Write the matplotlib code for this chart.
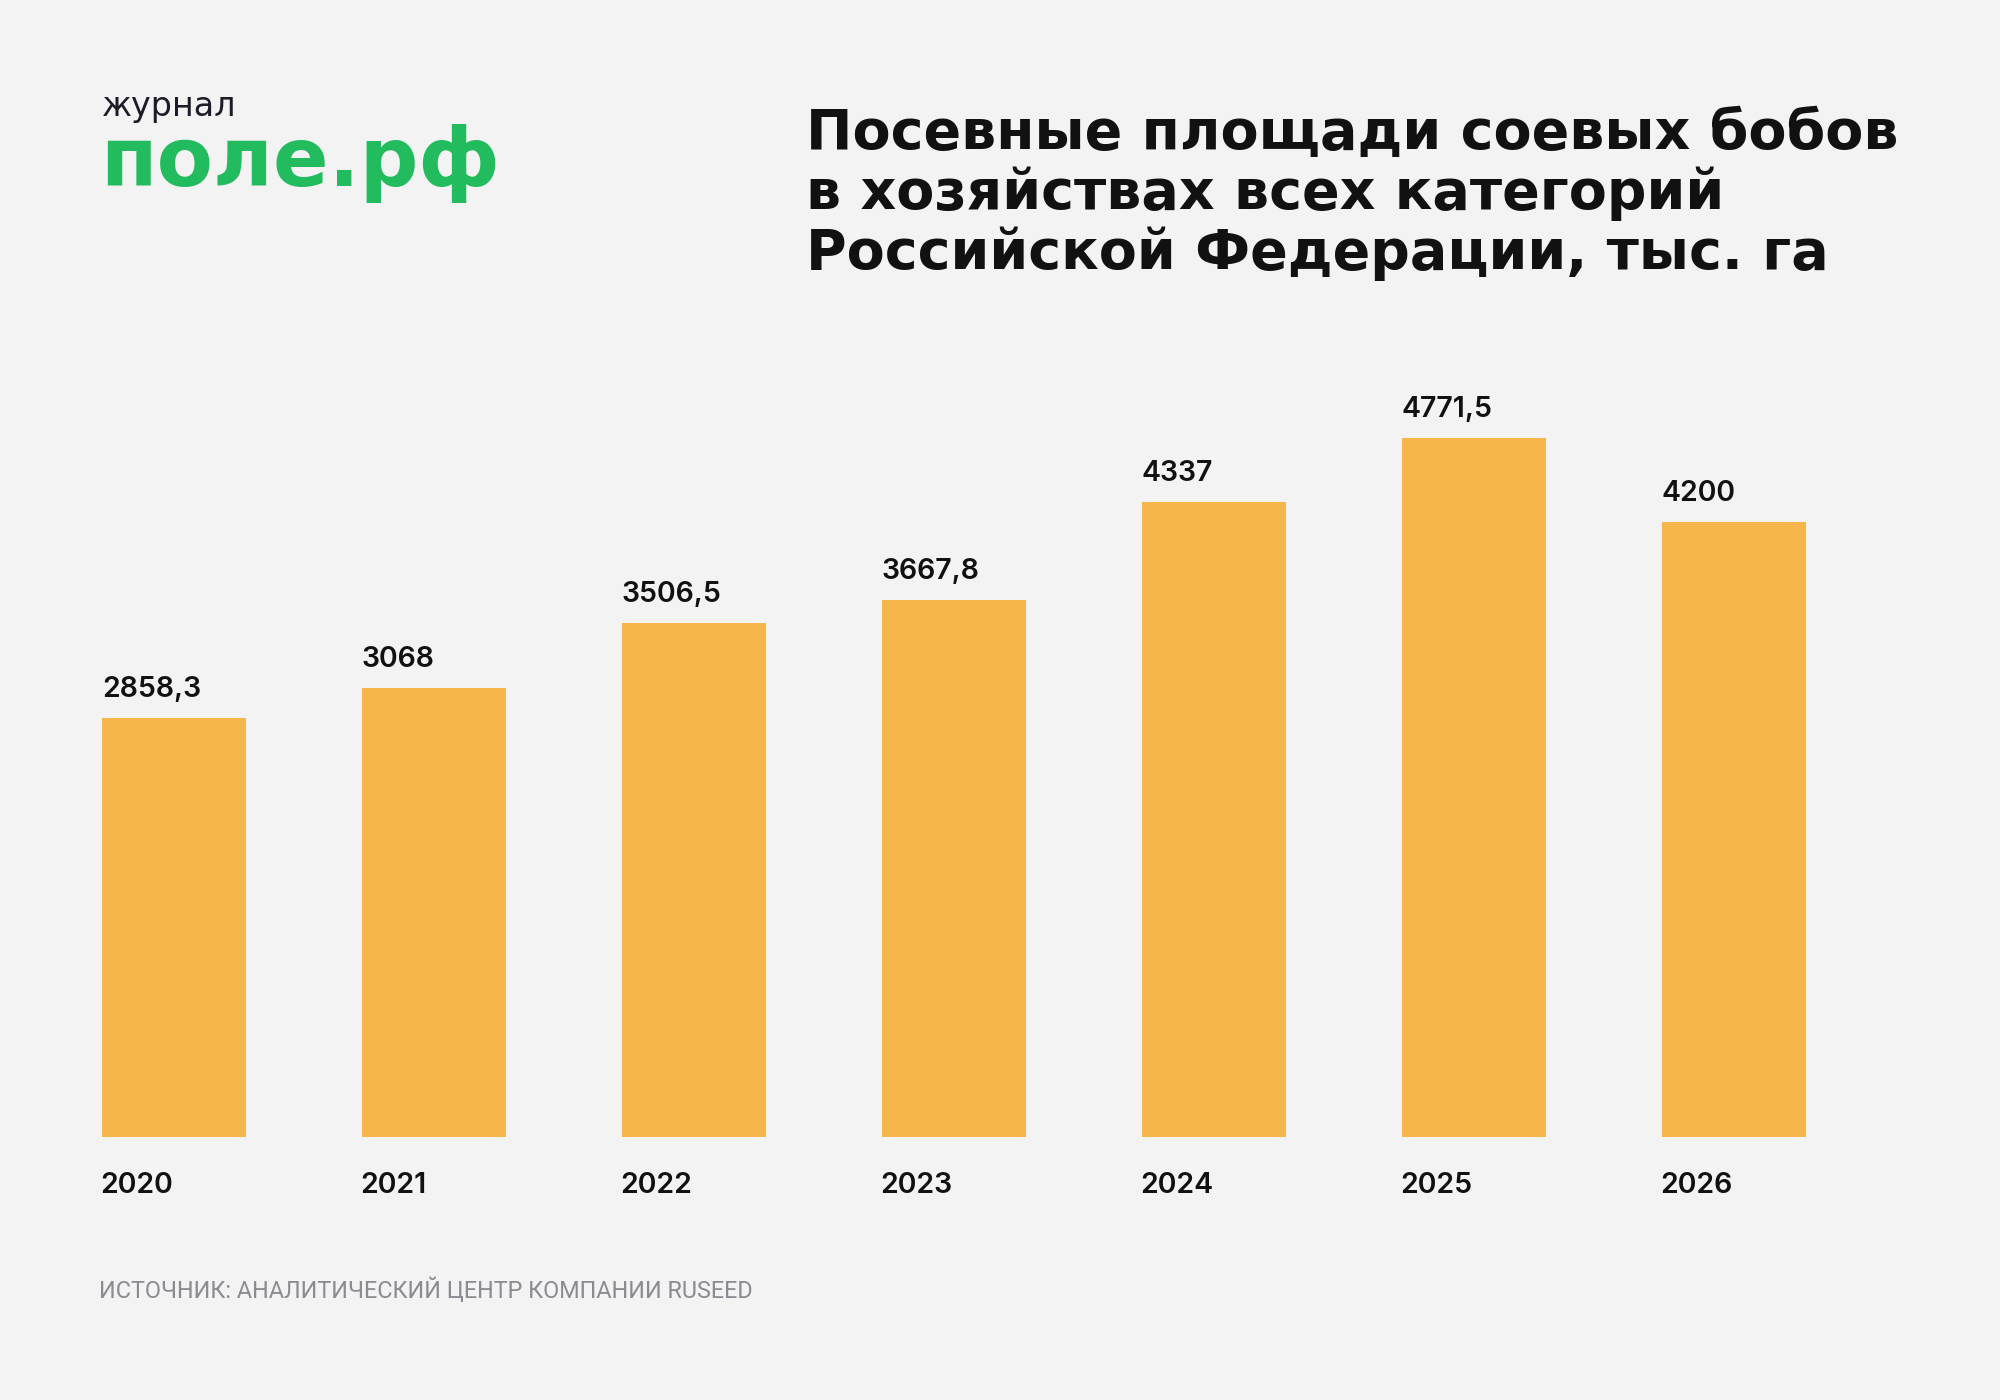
import matplotlib.pyplot as plt

years = ['2020', '2021', '2022', '2023', '2024', '2025', '2026']
values = [2858.3, 3068, 3506.5, 3667.8, 4337, 4771.5, 4200]

title_lines = [
    'Посевные площади соевых бобов',
    'в хозяйствах всех категорий',
    'Российской Федерации, тыс. га',
]
source = 'ИСТОЧНИК: АНАЛИТИЧЕСКИЙ ЦЕНТР КОМПАНИИ RUSEED'

c_bg = '#F3F3F3'
c_bar = '#F6B64C'
c_green = '#22BB5E'
c_text = '#111111'

plt.rcParams['font.family'] = ['Inter', 'DejaVu Sans']

W, H = 2000, 1400
fig = plt.figure(figsize=(20, 14), dpi=100, facecolor=c_bg)

# оси: ноль на 1137 px сверху, 0.1465 px на единицу
bw = 0.554
ax = fig.add_axes([102 / W, 1 - 1137 / H, 1704 / W, 732.5 / H])
ax.set_facecolor(c_bg)
x = range(len(years))
ax.bar(x, values, width=bw, color=c_bar, linewidth=0)
ax.set_xlim(-bw / 2, len(years) - 1 + bw / 2)
ax.set_ylim(0, 5000)
ax.axis('off')

for i, (yr, v) in enumerate(zip(years, values)):
    lab = f'{v:g}'.replace('.', ',')
    ax.annotate(lab, (i - bw / 2, v), xytext=(0, 21), textcoords='offset pixels',
                ha='left', va='baseline', fontsize=20.5, fontweight='semibold', color=c_text)
    ax.annotate(yr, (i - bw / 2, 0), xytext=(-2, -56), textcoords='offset pixels',
                ha='left', va='baseline', fontsize=20.5, fontweight='semibold', color=c_text)

# заголовок (широкий шрифт)
for k, line in enumerate(title_lines):
    fig.text(806 / W, 1 - (149 + 60 * k) / H, line, ha='left', va='baseline',
             fontsize=40, fontweight='bold', color=c_text, family=['DejaVu Sans'])

# логотип
fig.text(102 / W, 1 - 116 / H, 'журнал', ha='left', va='baseline',
         fontsize=24, color='#1c1c28', family=['DejaVu Sans'])
fig.text(100 / W, 1 - 186 / H, 'поле.рф', ha='left', va='baseline',
         fontsize=59, fontweight='bold', color=c_green, family=['DejaVu Sans'])

# источник
fig.text(99 / W, 1 - 1298 / H, source, ha='left', va='baseline',
         fontsize=16.8, color='#8D8A92', family=['Roboto', 'DejaVu Sans'])

fig.savefig('out.png', dpi=100, facecolor=c_bg)
